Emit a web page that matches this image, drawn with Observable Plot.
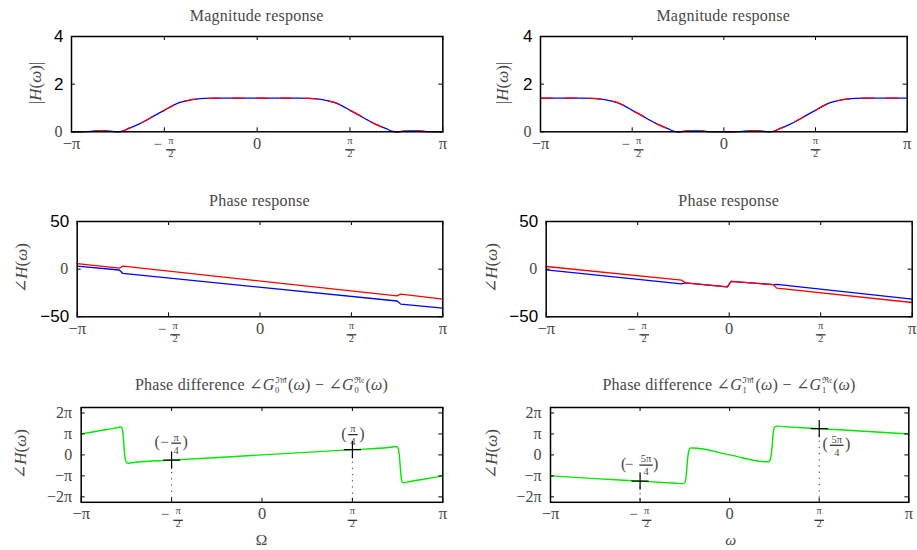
<!DOCTYPE html>
<html>
<head>
<meta charset="utf-8">
<script src="https://cdn.jsdelivr.net/npm/d3@7"></script>
<script src="https://cdn.jsdelivr.net/npm/@observablehq/plot@0.6"></script>
<style>
  html, body { margin: 0; padding: 0; background: #fff; }
  #fig { position: relative; width: 917px; height: 550px; overflow: hidden; background: #fff;
         font-family: "Liberation Serif", "DejaVu Serif", serif; color: #474747; }
  #fig svg { position: absolute; }
  .title, .ylab, .xlab { position: absolute; white-space: nowrap; line-height: 1; }
  .title { font-size: 16px; letter-spacing: 0.25px; transform: translate(-50%, -50%); }
  .ylab { font-size: 17px; transform: translate(-50%, -50%) rotate(-90deg); }
  .xlab { font-size: 15.5px; transform: translate(-50%, -50%); }
  .ss { display: inline-flex; flex-direction: column; font-size: 8.5px; line-height: 10px;
        vertical-align: 7px; margin: 0 1px 0 0.5px; letter-spacing: 0; }
</style>
</head>
<body>
<div id="fig">
  <div class="title" style="left:256.7px; top:16px">Magnitude response</div>
  <div class="title" style="left:723.3px; top:16px">Magnitude response</div>
  <div class="title" style="left:259.5px; top:201px">Phase response</div>
  <div class="title" style="left:728.7px; top:201px">Phase response</div>
  <div class="title" style="left:261.5px; top:385px">Phase difference ∠<i>G</i><span class="ss"><span>ℑ𝔪</span><span>0</span></span>(<i>ω</i>) − ∠<i>G</i><span class="ss"><span>ℜ𝔢</span><span>0</span></span>(<i>ω</i>)</div>
  <div class="title" style="left:729px; top:385px">Phase difference ∠<i>G</i><span class="ss"><span>ℑ𝔪</span><span>1</span></span>(<i>ω</i>) − ∠<i>G</i><span class="ss"><span>ℜ𝔢</span><span>1</span></span>(<i>ω</i>)</div>

  <div class="ylab" style="left:34.5px; top:83.4px">|<i>H</i>(<i>ω</i>)|</div>
  <div class="ylab" style="left:502px; top:83.4px">|<i>H</i>(<i>ω</i>)|</div>
  <div class="ylab" style="left:21px; top:268.4px">∠<i>H</i>(<i>ω</i>)</div>
  <div class="ylab" style="left:491px; top:268.4px">∠<i>H</i>(<i>ω</i>)</div>
  <div class="ylab" style="left:20px; top:454px">∠<i>H</i>(<i>ω</i>)</div>
  <div class="ylab" style="left:491px; top:454px">∠<i>H</i>(<i>ω</i>)</div>

  <div class="xlab" style="left:261.5px; top:540px">Ω</div>
  <div class="xlab" style="left:730.7px; top:540px"><i>ω</i></div>
</div>
<script>
// ---------- data (frequency positions in multiples of π) ----------
const xTicks = [-1, -0.5, 0, 0.5, 1];
const xTickPlain = [-1, 0, 1];
const xTickPlainText = ["−π", "0", "π"];

const magTicks = [0, 2, 4];
const magTicksSans = [2, 4];
const magTicksSansText = ["2", "4"];
const magTicksSerif = [0];
const magTicksSerifText = ["0"];

const phaseTicks = [-50, 0, 50];
const phaseTicksSans = [-50, 50];
const phaseTicksSansText = ["−50", "50"];
const phaseTicksSerif = [0];
const phaseTicksSerifText = ["0"];

const diffTicks = [-2, -1, 0, 1, 2];
const diffTickText = ["−2π", "−π", "0", "π", "2π"];

// magnitude responses (low-pass branch, high-pass branch)
const magLowW = [-1, -0.95, -0.92, -0.87, -0.82, -0.78, -0.75, -0.72, -0.695, -0.64, -0.596, -0.551, -0.5, -0.46, -0.42, -0.37, -0.33, -0.28, -0.22, 0,
                 0.22, 0.28, 0.33, 0.37, 0.42, 0.46, 0.5, 0.551, 0.596, 0.64, 0.695, 0.72, 0.75, 0.78, 0.82, 0.87, 0.92, 0.95, 1];
const magLowH = [0, 0, 0.01, 0.035, 0.04, 0.02, 0, 0.04, 0.13, 0.31, 0.49, 0.69, 0.90, 1.08, 1.22, 1.32, 1.37, 1.40, 1.41, 1.41,
                 1.41, 1.40, 1.37, 1.32, 1.22, 1.08, 0.90, 0.69, 0.49, 0.31, 0.13, 0.04, 0, 0.02, 0.04, 0.035, 0.01, 0, 0];

const magHighW = [-1, -0.78, -0.72, -0.67, -0.63, -0.58, -0.54, -0.5, -0.449, -0.404, -0.36, -0.305, -0.28, -0.25, -0.22, -0.18, -0.13, -0.08, -0.05, 0,
                  0.05, 0.08, 0.13, 0.18, 0.22, 0.25, 0.28, 0.305, 0.36, 0.404, 0.449, 0.5, 0.54, 0.58, 0.63, 0.67, 0.72, 0.78, 1];
const magHighH = [1.41, 1.41, 1.40, 1.37, 1.32, 1.22, 1.08, 0.90, 0.69, 0.49, 0.31, 0.13, 0.04, 0, 0.02, 0.04, 0.035, 0.01, 0, 0,
                  0, 0.01, 0.035, 0.04, 0.02, 0, 0.04, 0.13, 0.31, 0.49, 0.69, 0.90, 1.08, 1.22, 1.32, 1.37, 1.40, 1.41, 1.41];

// phase responses, branch 0
const phase0W = [-1, -0.77, -0.75, 0.75, 0.77, 1];
const phase0Red = [5.9, 1.0, 3.2, -28.0, -26.2, -31.4];
const phase0Blue = [3.2, -0.9, -4.5, -33.4, -36.7, -40.9];

// phase responses, branch 1
const phase1W = [-1, -0.26, -0.24, -0.01, 0.01, 0.24, 0.26, 1];
const phase1Red = [2.8, -11.5, -14.3, -18.5, -12.9, -16.2, -19.9, -35.0];
const phase1Blue = [-0.7, -15.5, -14.3, -18.5, -12.9, -16.2, -15.9, -31.4];

// phase differences (in multiples of π)
const diff0W = [-1, -0.9, -0.8, -0.785, -0.776, -0.77, -0.765, -0.76, -0.755, -0.748, -0.74, -0.725, -0.7, -0.5, 0,
                0.5, 0.7, 0.725, 0.74, 0.748, 0.755, 0.76, 0.765, 0.77, 0.776, 0.785, 0.8, 0.9, 1];
const diff0V = [1.0, 1.15, 1.30, 1.33, 1.30, 1.10, 0.60, 0.05, -0.25, -0.37, -0.40, -0.38, -0.35, -0.25, 0,
                0.25, 0.35, 0.38, 0.40, 0.37, 0.25, -0.05, -0.60, -1.10, -1.30, -1.33, -1.30, -1.15, -1.0];

const diff1W = [-1, -0.75, -0.5, -0.3, -0.265, -0.252, -0.244, -0.238, -0.232, -0.226, -0.218, -0.205, 0,
                0.205, 0.218, 0.226, 0.232, 0.238, 0.244, 0.252, 0.265, 0.3, 0.5, 0.75, 1];
const diff1V = [-1.0, -1.13, -1.25, -1.35, -1.37, -1.34, -1.10, -0.50, 0.0, 0.25, 0.33, 0.33, 0,
                -0.33, -0.33, -0.25, 0.0, 0.50, 1.10, 1.34, 1.37, 1.35, 1.25, 1.13, 1.0];

// annotated points
const mark0W = [-0.5, 0.5];
const mark0V = [-0.25, 0.25];
const mark1W = [-0.5, 0.5];
const mark1V = [-1.25, 1.25];

// ---------- styling ----------
const BLUE = "#0000ff", RED = "#ff0000", GREEN = "#00e800";
const INK = "#474747";
const SERIF = "'Liberation Serif', 'DejaVu Serif', serif";
const SANS = "'Liberation Sans', Arial, sans-serif";
const TICK = 4;
const DIFF_DOMAIN = [-2.26, 2.26];

const fig = document.getElementById("fig");

// horizontal stroke used as a fraction bar
function bar(half) {
  return {draw(context) { context.moveTo(-half, 0); context.lineTo(half, 0); }};
}

// stacked fraction such as (−5π/4), built from text pieces and a bar
function fracMarks(data, pos, o) {
  const fs = o.fs ?? 10.5;
  const base = {...pos, fontFamily: SERIF, fill: INK};
  const marks = [
    Plot.text(data, {...base, text: () => o.num, dx: o.dx, dy: o.dy - 6, fontSize: fs}),
    Plot.text(data, {...base, text: () => o.den, dx: o.dx, dy: o.dy + 7, fontSize: fs}),
    Plot.dot(data, {...pos, symbol: bar(o.half), dx: o.dx, dy: o.dy, stroke: "#262626", strokeWidth: 1.2, fill: "none"})
  ];
  if (o.signDx !== undefined)
    marks.push(Plot.text(data, {...base, text: () => "−", dx: o.signDx, dy: o.dy - 1, fontSize: 15}));
  if (o.openDx !== undefined) {
    marks.push(Plot.text(data, {...base, text: () => "(", dx: o.openDx, dy: o.dy - 1, fontSize: 16}));
    marks.push(Plot.text(data, {...base, text: () => ")", dx: o.closeDx, dy: o.dy - 1, fontSize: 16}));
  }
  return marks;
}

function xTickLabels() {
  return [
    Plot.text(xTickPlain, {x: xTickPlain, text: xTickPlainText, frameAnchor: "bottom", dy: 17,
                           fontFamily: SERIF, fontSize: 16.5, fill: INK}),
    ...fracMarks([-0.5], {x: [-0.5], frameAnchor: "bottom"}, {num: "π", den: "2", half: 4.8, dx: 6.5, dy: 18, signDx: -6.5}),
    ...fracMarks([0.5], {x: [0.5], frameAnchor: "bottom"}, {num: "π", den: "2", half: 4.8, dx: 0, dy: 18})
  ];
}

function yTickText(values, texts, font, size, color, dx) {
  return Plot.text(values, {y: values, text: texts, frameAnchor: "left", textAnchor: "end", dx,
                            fontFamily: font, fontSize: size, fill: color});
}

function addPanel({colX, colW, frame, yDomain, yTicks, marks}) {
  const [fl, ft, fr, fb] = frame;
  const mt = 12;
  const fh = fb - ft, fw = fr - fl;
  const height = Math.ceil(fh + mt + 46);
  const svg = Plot.plot({
    width: colW,
    height,
    marginLeft: fl - colX,
    marginRight: colX + colW - fr,
    marginTop: mt,
    marginBottom: height - mt - fh,
    x: {domain: [-1, 1], axis: null},
    y: {domain: yDomain, axis: null},
    style: {overflow: "visible", background: "transparent"},
    marks: [
      ...marks,
      Plot.tickX(xTicks, {x: xTicks, insetBottom: fh - TICK, stroke: "black"}),
      Plot.tickX(xTicks, {x: xTicks, insetTop: fh - TICK, stroke: "black"}),
      Plot.tickY(yTicks, {y: yTicks, insetRight: fw - TICK, stroke: "black"}),
      Plot.tickY(yTicks, {y: yTicks, insetLeft: fw - TICK, stroke: "black"}),
      ...xTickLabels(),
      Plot.frame({stroke: "black", strokeWidth: 1.5})
    ]
  });
  svg.style.left = colX + "px";
  svg.style.top = (ft - mt) + "px";
  fig.appendChild(svg);
}

const magMarks = (W, H) => [
  Plot.line(W, {x: W, y: H, stroke: BLUE, strokeWidth: 1.3, curve: "monotone-x"}),
  Plot.line(W, {x: W, y: H, stroke: RED, strokeWidth: 1.3, curve: "monotone-x", strokeDasharray: "12,12"}),
  yTickText(magTicksSans, magTicksSansText, SANS, 17, "black", -8),
  yTickText(magTicksSerif, magTicksSerifText, SERIF, 16, INK, -9)
];

const phaseMarks = (W, R, B) => [
  Plot.line(W, {x: W, y: B, stroke: BLUE, strokeWidth: 1.3}),
  Plot.line(W, {x: W, y: R, stroke: RED, strokeWidth: 1.3}),
  yTickText(phaseTicksSans, phaseTicksSansText, SANS, 17, "black", -8),
  yTickText(phaseTicksSerif, phaseTicksSerifText, SERIF, 16, INK, -9)
];

const diffMarks = (W, V, MW, MV) => [
  Plot.ruleX(MW, {x: MW, y1: MV, y2: () => DIFF_DOMAIN[0], stroke: "#333", strokeWidth: 1, strokeDasharray: "1.2,5"}),
  Plot.line(W, {x: W, y: V, stroke: GREEN, strokeWidth: 1.4, curve: "monotone-x"}),
  Plot.dot(MW, {x: MW, y: MV, symbol: "plus", r: 5.6, stroke: "black", strokeWidth: 1.2}),
  yTickText(diffTicks, diffTickText, SERIF, 16, INK, -9)
];

// magnitude row
addPanel({colX: 0, colW: 458, frame: [71, 35.7, 442.3, 131], yDomain: [0, 4], yTicks: magTicks,
          marks: magMarks(magLowW, magLowH)});
addPanel({colX: 458, colW: 459, frame: [540, 35.7, 906.7, 131], yDomain: [0, 4], yTicks: magTicks,
          marks: magMarks(magHighW, magHighH)});

// phase row
addPanel({colX: 0, colW: 458, frame: [76.7, 220.7, 442.3, 316], yDomain: [-50, 50], yTicks: phaseTicks,
          marks: phaseMarks(phase0W, phase0Red, phase0Blue)});
addPanel({colX: 458, colW: 459, frame: [545.7, 220.7, 911.7, 316], yDomain: [-50, 50], yTicks: phaseTicks,
          marks: phaseMarks(phase1W, phase1Red, phase1Blue)});

// phase difference row
addPanel({colX: 0, colW: 458, frame: [80.7, 406.5, 442.3, 501.3], yDomain: DIFF_DOMAIN, yTicks: diffTicks,
          marks: [
            ...diffMarks(diff0W, diff0V, mark0W, mark0V),
            ...fracMarks([0], {x: [mark0W[0]], y: [mark0V[0]]},
                         {num: "π", den: "4", half: 4.8, dx: 4.5, dy: -17, signDx: -7, openDx: -14.5, closeDx: 13.5}),
            ...fracMarks([0], {x: [mark0W[1]], y: [mark0V[1]]},
                         {num: "π", den: "4", half: 4.8, dx: 0.5, dy: -15, openDx: -8.5, closeDx: 9.5})
          ]});
addPanel({colX: 458, colW: 459, frame: [550, 406.5, 908.3, 501.3], yDomain: DIFF_DOMAIN, yTicks: diffTicks,
          marks: [
            ...diffMarks(diff1W, diff1V, mark1W, mark1V),
            ...fracMarks([0], {x: [mark1W[0]], y: [mark1V[0]]},
                         {num: "5π", den: "4", half: 6.8, dx: 6, dy: -16, signDx: -11, openDx: -16.5, closeDx: 15.5}),
            ...fracMarks([0], {x: [mark1W[1]], y: [mark1V[1]]},
                         {num: "5π", den: "4", half: 6.8, dx: 17.6, dy: 16.6, openDx: 6, closeDx: 28.5})
          ]});
</script>
</body>
</html>
